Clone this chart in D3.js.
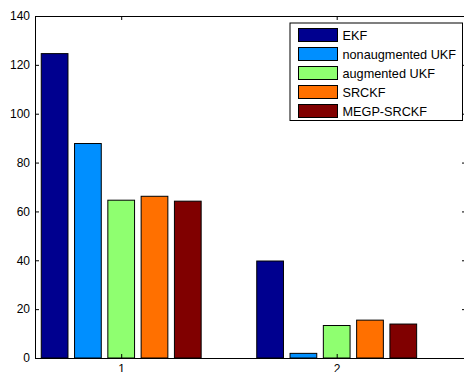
<!DOCTYPE html>
<html>
<head>
<meta charset="utf-8">
<script src="https://cdn.jsdelivr.net/npm/d3@7"></script>
<style>
  body { margin: 0; background: #fff; }
  svg { display: block; font-family: "Liberation Sans", Arial, sans-serif; }
  .axis text { font-size: 12px; fill: #000; }
  .axis path, .axis line { stroke: #000; }
</style>
</head>
<body>
<div id="chart"></div>
<script>
// data
var categories = [1, 2];
var seriesNames = ['EKF', 'nonaugmented UKF', 'augmented UKF', 'SRCKF', 'MEGP-SRCKF'];
var ekf = [124.6, 39.7];
var nonaugUkf = [87.8, 1.9];
var augUkf = [64.6, 13.3];
var srckf = [66.2, 15.5];
var megpSrckf = [64.2, 13.9];
var yTicks = [0, 20, 40, 60, 80, 100, 120, 140];
var colors = ['#00008f', '#008fff', '#8fff70', '#ff7000', '#800000'];

var series = [ekf, nonaugUkf, augUkf, srckf, megpSrckf];

var width = 464, height = 372;
// plot box (right edge falls just outside the picture)
var plotLeft = 35, plotRight = 466, plotTop = 16, plotBottom = 358;

var svg = d3.select('#chart').append('svg')
    .attr('width', width)
    .attr('height', height);

var x = d3.scaleLinear().domain([0.6, 2.6]).range([plotLeft, plotRight]);
var y = d3.scaleLinear().domain([0, 140]).range([plotBottom, plotTop]);

// grouped bars, MATLAB style
var step = 0.1545, barW = 0.124;
series.forEach(function (vals, i) {
    var off = (i - (series.length - 1) / 2) * step;
    svg.append('g')
        .selectAll('rect')
        .data(vals)
        .enter()
        .append('rect')
        .attr('x', function (d, j) { return x(categories[j] + off - barW / 2); })
        .attr('y', function (d) { return y(d); })
        .attr('width', x(barW) - x(0))
        .attr('height', function (d) { return y(0) - y(d); })
        .attr('fill', colors[i])
        .attr('stroke', '#000')
        .attr('stroke-width', 1);
});

// axes with ticks pointing in
svg.append('g')
    .attr('class', 'axis')
    .attr('transform', 'translate(' + plotLeft + ',0)')
    .call(d3.axisLeft(y).tickValues(yTicks).tickSize(-4).tickSizeOuter(0).tickPadding(5));
svg.append('g')
    .attr('class', 'axis')
    .attr('transform', 'translate(' + plotRight + ',0)')
    .call(d3.axisRight(y).tickValues(yTicks).tickSize(-4).tickSizeOuter(0).tickFormat(''));
svg.append('g')
    .attr('class', 'axis')
    .attr('transform', 'translate(0,' + plotBottom + ')')
    .call(d3.axisBottom(x).tickValues(categories).tickSize(-4).tickSizeOuter(0).tickPadding(6).tickFormat(d3.format('d')));
svg.append('g')
    .attr('class', 'axis')
    .attr('transform', 'translate(0,' + plotTop + ')')
    .call(d3.axisTop(x).tickValues(categories).tickSize(-4).tickSizeOuter(0).tickFormat(''));

// legend
var legend = svg.append('g').attr('transform', 'translate(290,23)');
legend.append('rect')
    .attr('width', 172.5)
    .attr('height', 97.5)
    .attr('fill', '#fff')
    .attr('stroke', '#000');
var rows = legend.selectAll('g.row')
    .data(seriesNames)
    .enter()
    .append('g')
    .attr('class', 'row')
    .attr('transform', function (d, i) { return 'translate(0,' + (i * 19) + ')'; });
rows.append('rect')
    .attr('x', 8.5)
    .attr('y', 5.5)
    .attr('width', 39)
    .attr('height', 13)
    .attr('fill', function (d, i) { return colors[i]; })
    .attr('stroke', '#000');
rows.append('text')
    .attr('x', 52.5)
    .attr('y', 17)
    .style('font-size', '12.7px')
    .text(function (d) { return d; });
</script>
</body>
</html>
